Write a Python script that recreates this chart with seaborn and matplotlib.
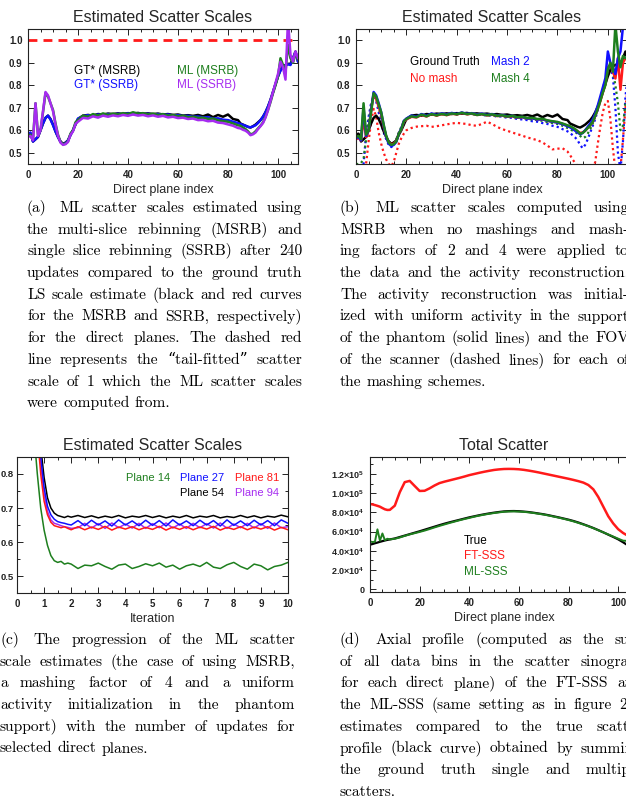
import numpy as np
import matplotlib
matplotlib.use('Agg')
import matplotlib.pyplot as plt
import seaborn as sns
from matplotlib.ticker import MultipleLocator

# ---------------- data ----------------
x_a = list(range(0, 21)) + list(range(22, 85, 2)) + list(range(85, 109))

gt_msrb = [0.580,0.585,0.550,0.560,0.570,0.600,0.630,0.655,0.665,0.650,0.625,0.595,0.570,0.550,0.540,0.545,0.555,0.580,0.600,0.625,0.650,
           0.665,0.668,0.665,0.672,0.670,0.674,0.672,0.675,0.672,0.676,0.674,0.677,0.673,0.675,0.672,0.674,0.670,0.672,0.668,0.670,0.665,0.667,0.664,0.668,0.662,0.670,0.658,0.668,0.660,0.670,0.650,0.645,
           0.630,0.625,0.620,0.615,0.612,0.618,0.625,0.635,0.645,0.660,0.680,0.705,0.735,0.770,0.805,0.840,0.868,0.885,0.890,0.895,0.895,0.920,0.950,0.905]
gt_ssrb = [0.580,0.590,0.550,0.560,0.572,0.600,0.630,0.655,0.665,0.648,0.623,0.595,0.570,0.548,0.538,0.542,0.555,0.578,0.600,0.628,0.652,
           0.663,0.667,0.664,0.670,0.668,0.672,0.670,0.673,0.671,0.675,0.672,0.674,0.671,0.673,0.670,0.672,0.668,0.670,0.666,0.667,0.663,0.664,0.660,0.661,0.657,0.658,0.652,0.653,0.647,0.645,0.638,0.632,
           0.628,0.624,0.620,0.615,0.613,0.617,0.622,0.632,0.645,0.660,0.680,0.705,0.735,0.770,0.805,0.840,0.865,0.882,0.888,0.893,0.890,0.918,0.948,0.905]
ml_msrb = [0.575,0.580,0.560,0.720,0.578,0.600,0.680,0.765,0.750,0.720,0.690,0.630,0.580,0.548,0.538,0.540,0.550,0.585,0.600,0.635,0.645,
           0.665,0.660,0.672,0.665,0.675,0.668,0.674,0.670,0.676,0.672,0.680,0.674,0.676,0.670,0.674,0.668,0.672,0.665,0.668,0.662,0.665,0.658,0.660,0.655,0.656,0.650,0.652,0.644,0.640,0.638,0.630,0.622,
           0.620,0.612,0.605,0.595,0.582,0.585,0.595,0.608,0.620,0.635,0.660,0.690,0.725,0.765,0.800,0.840,0.920,0.890,0.860,0.980,0.920,0.900,0.940,0.915]
ml_ssrb = [0.570,0.575,0.555,0.720,0.575,0.600,0.685,0.770,0.755,0.720,0.685,0.625,0.575,0.545,0.535,0.538,0.548,0.580,0.595,0.628,0.638,
           0.655,0.652,0.662,0.656,0.665,0.660,0.666,0.662,0.668,0.664,0.670,0.665,0.668,0.662,0.666,0.660,0.664,0.657,0.660,0.654,0.656,0.650,0.652,0.645,0.646,0.640,0.642,0.634,0.632,0.626,0.620,0.610,
           0.608,0.602,0.598,0.590,0.578,0.582,0.590,0.605,0.618,0.632,0.656,0.690,0.730,0.770,0.810,0.850,0.905,0.880,0.825,1.090,0.935,0.905,0.950,0.920]
tail_fit_scale = 1.0

mash4_solid = [0.570,0.575,0.560,0.720,0.580,0.600,0.680,0.765,0.750,0.715,0.680,0.625,0.575,0.545,0.535,0.538,0.550,0.585,0.605,0.640,0.650,
               0.662,0.658,0.670,0.662,0.672,0.666,0.673,0.668,0.675,0.671,0.678,0.672,0.675,0.668,0.672,0.667,0.671,0.664,0.667,0.661,0.664,0.658,0.660,0.654,0.655,0.650,0.651,0.644,0.640,0.637,0.630,0.622,
               0.618,0.612,0.605,0.596,0.585,0.588,0.598,0.610,0.622,0.638,0.665,0.695,0.730,0.768,0.800,0.870,0.900,0.860,1.070,0.950,0.880,0.930,0.920,0.920]
mash2_solid = [0.565,0.570,0.555,0.700,0.575,0.600,0.690,0.770,0.755,0.720,0.680,0.620,0.570,0.540,0.530,0.535,0.548,0.585,0.608,0.642,0.652,
               0.665,0.660,0.672,0.664,0.675,0.668,0.675,0.670,0.677,0.672,0.679,0.673,0.676,0.670,0.674,0.668,0.672,0.665,0.668,0.662,0.664,0.657,0.659,0.652,0.653,0.648,0.649,0.642,0.638,0.634,0.627,0.618,
               0.613,0.606,0.598,0.590,0.582,0.588,0.600,0.615,0.630,0.648,0.675,0.710,0.750,0.790,0.830,0.950,0.900,0.880,0.850,0.920,0.950,1.060,1.080,1.080]
nomash_solid = [0.560,0.565,0.555,0.650,0.570,0.600,0.690,0.760,0.740,0.705,0.670,0.615,0.570,0.545,0.538,0.540,0.552,0.585,0.605,0.638,0.648,
                0.660,0.657,0.668,0.661,0.672,0.665,0.672,0.667,0.674,0.670,0.677,0.671,0.674,0.668,0.672,0.666,0.670,0.663,0.666,0.660,0.662,0.656,0.658,0.652,0.653,0.648,0.649,0.642,0.638,0.635,0.628,0.620,
                0.615,0.610,0.603,0.595,0.588,0.590,0.598,0.610,0.622,0.638,0.665,0.695,0.730,0.768,0.805,0.880,0.890,0.860,0.830,0.920,0.780,0.900,0.920,0.920]
nomash_fov = [0.400,0.380,0.360,0.380,0.450,0.550,0.640,0.695,0.660,0.590,0.540,0.500,0.470,0.450,0.440,0.460,0.500,0.540,0.565,0.585,0.600,
              0.610,0.616,0.618,0.620,0.615,0.618,0.622,0.626,0.630,0.633,0.630,0.628,0.622,0.620,0.628,0.638,0.628,0.615,0.605,0.598,0.590,0.583,0.576,0.568,0.562,0.556,0.546,0.532,0.515,0.518,0.520,0.505,
              0.490,0.470,0.455,0.440,0.425,0.405,0.390,0.380,0.390,0.420,0.460,0.540,0.615,0.680,0.720,0.730,0.650,0.520,0.420,0.400,0.430,0.560,0.700,0.800]
mash2_fov = [0.400,0.380,0.400,0.450,0.580,0.660,0.720,0.750,0.730,0.680,0.630,0.590,0.560,0.535,0.525,0.535,0.555,0.585,0.610,0.635,0.650,
             0.660,0.665,0.668,0.666,0.672,0.668,0.674,0.670,0.675,0.672,0.676,0.672,0.674,0.668,0.670,0.664,0.667,0.660,0.662,0.655,0.656,0.650,0.648,0.645,0.640,0.638,0.632,0.628,0.620,0.615,0.605,0.595,
             0.588,0.578,0.568,0.555,0.535,0.520,0.535,0.560,0.590,0.620,0.650,0.690,0.730,0.780,0.830,0.870,0.885,0.840,0.700,0.500,0.420,0.550,0.750,0.850]
mash4_fov = [0.450,0.450,0.455,0.470,0.560,0.640,0.710,0.755,0.740,0.700,0.655,0.610,0.575,0.550,0.540,0.545,0.560,0.590,0.615,0.635,0.648,
             0.660,0.662,0.668,0.664,0.670,0.666,0.672,0.668,0.674,0.670,0.676,0.671,0.673,0.667,0.670,0.665,0.668,0.662,0.664,0.658,0.660,0.654,0.655,0.650,0.648,0.645,0.642,0.636,0.632,0.628,0.620,0.610,
             0.605,0.598,0.592,0.585,0.575,0.565,0.570,0.585,0.605,0.630,0.660,0.700,0.740,0.780,0.820,0.860,0.880,0.860,0.800,0.720,0.600,0.620,0.720,0.740]

x_c = [0.5,0.625,0.75,0.875,1.0,1.125,1.25,1.375,1.5,1.625,1.75,1.875,2.0] + [2.25 + 0.25 * k for k in range(32)]
plane14 = [1.10,0.92,0.80,0.70,0.635,0.59,0.56,0.545,0.54,0.543,0.535,0.538,0.535,
           0.522,0.532,0.530,0.538,0.528,0.520,0.532,0.535,0.522,0.528,0.536,0.530,0.538,0.526,0.532,0.520,
           0.530,0.535,0.528,0.540,0.526,0.522,0.533,0.540,0.528,0.520,0.535,0.530,0.518,0.528,0.532,0.540]
plane54 = [1.30,1.15,1.00,0.88,0.79,0.73,0.70,0.685,0.678,0.675,0.672,0.676,0.673,
           0.678,0.672,0.677,0.671,0.676,0.672,0.678,0.671,0.676,0.673,0.678,0.672,0.677,0.671,0.676,0.672,
           0.678,0.671,0.676,0.673,0.678,0.671,0.675,0.672,0.678,0.672,0.677,0.671,0.676,0.673,0.679,0.674]
plane27 = [1.25,1.10,0.97,0.85,0.76,0.705,0.68,0.667,0.66,0.657,0.655,0.652,0.650,
           0.663,0.648,0.664,0.650,0.662,0.647,0.665,0.650,0.662,0.648,0.664,0.649,0.663,0.647,0.665,0.650,
           0.662,0.648,0.664,0.650,0.663,0.647,0.665,0.649,0.662,0.648,0.664,0.650,0.663,0.648,0.665,0.655]
plane81 = [1.20,1.05,0.92,0.80,0.72,0.68,0.658,0.648,0.645,0.642,0.645,0.640,0.636,
           0.645,0.636,0.644,0.637,0.646,0.635,0.644,0.638,0.645,0.636,0.643,0.637,0.646,0.635,0.644,0.637,
           0.645,0.636,0.644,0.638,0.646,0.635,0.643,0.637,0.645,0.636,0.644,0.638,0.645,0.635,0.643,0.636]
plane94 = [1.22,1.08,0.95,0.83,0.74,0.69,0.665,0.655,0.652,0.648,0.645,0.643,0.640,
           0.642,0.655,0.641,0.654,0.640,0.656,0.642,0.653,0.641,0.655,0.640,0.654,0.642,0.656,0.641,0.653,
           0.640,0.655,0.642,0.654,0.641,0.656,0.640,0.653,0.642,0.655,0.641,0.654,0.640,0.656,0.642,0.645]

x_d = list(range(0, 9)) + list(range(10, 109, 2))
true_total = [46300,47000,47800,48500,49300,50000,50700,51300,51800,
              52800,54300,55800,57300,58800,60300,61900,63500,65100,66700,68200,69600,70900,72200,73500,74800,75900,77000,78000,78900,79700,
              80400,81000,81300,81400,81200,80800,80300,79600,78800,78000,77000,75900,74800,73600,72400,71000,69400,67600,65700,63700,
              61500,59200,56800,54400,51900,48800,45500,43000,41000]
ml_sss = [49800,49000,49500,62300,50500,58000,51000,52500,51800,
          52500,53800,55500,57000,58300,59600,61000,62600,64300,65900,67400,68900,70300,71700,73000,74200,75500,76600,77600,78500,79300,
          80000,80600,80900,81000,80800,80500,80000,79300,78500,77700,76700,75600,74500,73300,72000,70600,69000,67300,65500,63500,
          61300,59200,57000,54800,52600,50500,50200,49500,48500]
ft_sss = [88700,88300,87600,86800,85900,84500,83200,82500,82600,
          87000,101000,111500,112800,107500,102300,102500,105000,108000,110500,112000,113300,114600,115900,117300,118800,120000,121200,122300,123300,124200,
          124800,125200,125300,125200,124900,124300,123500,122600,121600,120500,119400,118300,117200,116100,115000,113800,112500,111000,108500,104000,
          96000,86000,76000,68500,62500,58500,55500,53500,52000]

plane_ticks = [0, 20, 40, 60, 80, 100]
scale_ticks = [0.5, 0.6, 0.7, 0.8, 0.9, 1.0]
iter_ticks = list(range(0, 11))
iter_yticks = [0.5, 0.6, 0.7, 0.8]
total_ticks = [0, 20000, 40000, 60000, 80000, 100000, 120000]
total_labels = ['0', r'2.0$\times$10$^4$', r'4.0$\times$10$^4$', r'6.0$\times$10$^4$',
                r'8.0$\times$10$^4$', r'1.0$\times$10$^5$', r'1.2$\times$10$^5$']

cap_a = ["(a)  ML scatter scales estimated using",
         "the multi-slice rebinning (MSRB) and",
         "single slice rebinning (SSRB) after 240",
         "updates compared to the ground truth",
         "LS scale estimate (black and red curves",
         "for the MSRB and SSRB, respectively)",
         "for the direct planes.  The dashed red",
         "line represents the \u201ctail-fitted\u201d scatter",
         "scale of 1 which the ML scatter scales",
         "were computed from."]
cap_b = ["(b)  ML scatter scales computed using",
         "MSRB when no mashings and mash-",
         "ing factors of 2 and 4 were applied to",
         "the data and the activity reconstruction.",
         "The activity reconstruction was initial-",
         "ized with uniform activity in the support",
         "of the phantom (solid lines) and the FOV",
         "of the scanner (dashed lines) for each of",
         "the mashing schemes."]
cap_c = ["(c)  The progression of the ML scatter",
         "scale estimates (the case of using MSRB,",
         "a mashing factor of 4 and a uniform",
         "activity initialization in the phantom",
         "support) with the number of updates for",
         "selected direct planes."]
cap_d = ["(d)  Axial profile (computed as the sum",
         "of all data bins in the scatter sinogram",
         "for each direct plane) of the FT-SSS and",
         "the ML-SSS (same setting as in figure 2(c))",
         "estimates compared to the true scatter",
         "profile (black curve) obtained by summing",
         "the ground truth single and multiple",
         "scatters."]

# ---------------- style ----------------
sns.set_theme(style='ticks')
plt.rcParams['font.family'] = ['Liberation Sans', 'DejaVu Sans']
plt.rcParams['mathtext.fontset'] = 'custom'
plt.rcParams['mathtext.rm'] = 'Liberation Sans:bold'
plt.rcParams['mathtext.it'] = 'Liberation Sans:bold'
plt.rcParams['mathtext.bf'] = 'Liberation Sans:bold'

BLACK = '#000000'
BLUE = '#1010ff'
RED = '#ff1a1a'
GREEN = '#1e7f1e'
PURPLE = '#a62cf0'

W, H = 626, 800
fig = plt.figure(figsize=(W / 100, H / 100), dpi=100)


def add_ax(l, t, r, b):
    return fig.add_axes([l / W, 1 - b / H, (r - l) / W, (b - t) / H])


def style(ax, xt, xl, yt, yl, xminor, yminor, ysize=7, ypad=4):
    for s in ax.spines.values():
        s.set_linewidth(0.8)
        s.set_color('#222222')
    ax.set_xticks(xt)
    ax.set_xticklabels(xl, fontsize=7, fontweight='bold')
    ax.set_yticks(yt)
    ax.set_yticklabels(yl, fontsize=ysize, fontweight='bold')
    ax.xaxis.set_minor_locator(MultipleLocator(xminor))
    if yminor:
        ax.yaxis.set_minor_locator(MultipleLocator(yminor))
    ax.tick_params(which='both', direction='in', top=True, right=True, colors='#222222', width=0.7)
    ax.tick_params(which='major', length=4.5, pad=4)
    ax.tick_params(axis='y', which='major', pad=ypad)
    ax.tick_params(which='minor', length=2.5)
    ax.grid(False)


def line(ax, x, y, c, lw=1.8, ls='-'):
    sns.lineplot(x=x, y=y, ax=ax, color=c, lw=lw, linestyle=ls, estimator=None, sort=False, legend=False)


DOT = (0, (1, 1.4))

# ---- (a)
ax = add_ax(28, 29, 298, 164)
ax.axhline(tail_fit_scale, color=RED, lw=2.0, linestyle=(0, (3.2, 2.2)))
line(ax, x_a, gt_msrb, BLACK)
line(ax, x_a, gt_ssrb, BLUE)
line(ax, x_a, ml_msrb, GREEN)
line(ax, x_a, ml_ssrb, PURPLE)
ax.set_xlim(0, 108)
ax.set_ylim(0.45, 1.05)
style(ax, plane_ticks, [str(v) for v in plane_ticks], scale_ticks, ['%.1f' % v for v in scale_ticks], 5, None)
ax.set_title('Estimated Scatter Scales', fontsize=11.5, pad=5)
ax.set_xlabel('Direct plane index', fontsize=9, labelpad=3)
ax.set_ylabel('')
for txt, c, x, y in [('GT* (MSRB)', BLACK, 74, 71), ('GT* (SSRB)', BLUE, 74, 85),
                     ('ML (MSRB)', GREEN, 177, 71), ('ML (SSRB)', PURPLE, 177, 85)]:
    fig.text(x / W, 1 - y / H, txt, color=c, fontsize=8.5, va='center', ha='left')

# ---- (b)
ax = add_ax(356, 29, 628, 164)
line(ax, x_a, nomash_fov, RED, lw=1.6, ls=DOT)
line(ax, x_a, mash2_fov, BLUE, lw=1.6, ls=DOT)
line(ax, x_a, mash4_fov, GREEN, lw=1.6, ls=DOT)
line(ax, x_a, gt_msrb, BLACK)
line(ax, x_a, nomash_solid, RED)
line(ax, x_a, mash2_solid, BLUE)
line(ax, x_a, mash4_solid, GREEN)
ax.set_xlim(0, 108)
ax.set_ylim(0.45, 1.05)
style(ax, plane_ticks, [str(v) for v in plane_ticks], scale_ticks, ['%.1f' % v for v in scale_ticks], 5, None)
ax.set_title('Estimated Scatter Scales', fontsize=11.5, pad=5)
ax.set_xlabel('Direct plane index', fontsize=9, labelpad=3)
ax.set_ylabel('')
for txt, c, x, y in [('Ground Truth', BLACK, 410, 62), ('No mash', RED, 410, 79),
                     ('Mash 2', BLUE, 491, 62), ('Mash 4', GREEN, 491, 79)]:
    fig.text(x / W, 1 - y / H, txt, color=c, fontsize=8.5, va='center', ha='left')

# ---- (c)
ax = add_ax(17, 457, 288, 593)
line(ax, x_c, plane14, GREEN, lw=1.1)
line(ax, x_c, plane54, BLACK, lw=1.1)
line(ax, x_c, plane94, PURPLE, lw=1.1)
line(ax, x_c, plane27, BLUE, lw=1.1)
line(ax, x_c, plane81, RED, lw=1.1)
ax.set_xlim(0, 10)
ax.set_ylim(0.45, 0.85)
style(ax, iter_ticks, [str(v) for v in iter_ticks], iter_yticks, ['%.1f' % v for v in iter_yticks], 0.5, 0.05,
      ysize=6.8, ypad=2.5)
ax.set_title('Estimated Scatter Scales', fontsize=11.5, pad=5)
ax.set_xlabel('Iteration', fontsize=9, labelpad=3)
ax.set_ylabel('')
for txt, c, x, y in [('Plane 14', GREEN, 126, 478), ('Plane 27', BLUE, 180, 478), ('Plane 81', RED, 235, 478),
                     ('Plane 54', BLACK, 180, 493), ('Plane 94', PURPLE, 235, 493)]:
    fig.text(x / W, 1 - y / H, txt, color=c, fontsize=8, va='center', ha='left')

# ---- (d)
ax = add_ax(370, 457, 638, 592)
line(ax, x_d, ft_sss, RED, lw=1.8)
line(ax, x_d, true_total, BLACK, lw=1.6)
line(ax, x_d, ml_sss, GREEN, lw=1.4)
ax.set_xlim(0, 108)
ax.set_ylim(-3000, 137700)
style(ax, plane_ticks, [str(v) for v in plane_ticks], total_ticks, total_labels, 5, 10000, ysize=6.5)
ax.set_title('Total Scatter', fontsize=11.5, pad=5)
ax.set_xlabel('Direct plane index', fontsize=9, labelpad=3)
ax.set_ylabel('')
for txt, c, x, y in [('True', BLACK, 464, 541), ('FT-SSS', RED, 464, 556), ('ML-SSS', GREEN, 464, 572)]:
    fig.text(x / W, 1 - y / H, txt, color=c, fontsize=8.5, va='center', ha='left')

# ---------------- captions (justified) ----------------
CAPFONT = ['cmr10', 'DejaVu Serif']
CAPFS = 11.2
LS = 21.7
renderer = fig.canvas.get_renderer()
space_px = 0.333 * CAPFS * 100 / 72


def caption(lines, x0, x1, base0, x1_over=None):
    x1_over = x1_over or {}
    for i, ln in enumerate(lines):
        words = ln.split()
        y = base0 + i * LS
        right = x1_over.get(i, x1)
        ts = [fig.text(0, 1 - y / H, w, fontsize=CAPFS, family=CAPFONT, va='baseline', ha='left', color='black')
              for w in words]
        ws = [t.get_window_extent(renderer=renderer).width for t in ts]
        extra = 4.0 if i == 0 else 0.0
        if i == len(lines) - 1 or len(words) < 2:
            gap = space_px
        else:
            gap = (right - x0 - sum(ws) - extra) / (len(words) - 1)
        x = x0
        for j, (t, w) in enumerate(zip(ts, ws)):
            t.set_x(x / W)
            x += w + gap + (extra if j == 0 else 0)


caption(cap_a, 27, 302, 212)
caption(cap_b, 340, 629, 212)
caption(cap_c, 0, 295, 644)
caption(cap_d, 340, 642, 644, {3: 652})

fig.savefig('out.png', dpi=100)
